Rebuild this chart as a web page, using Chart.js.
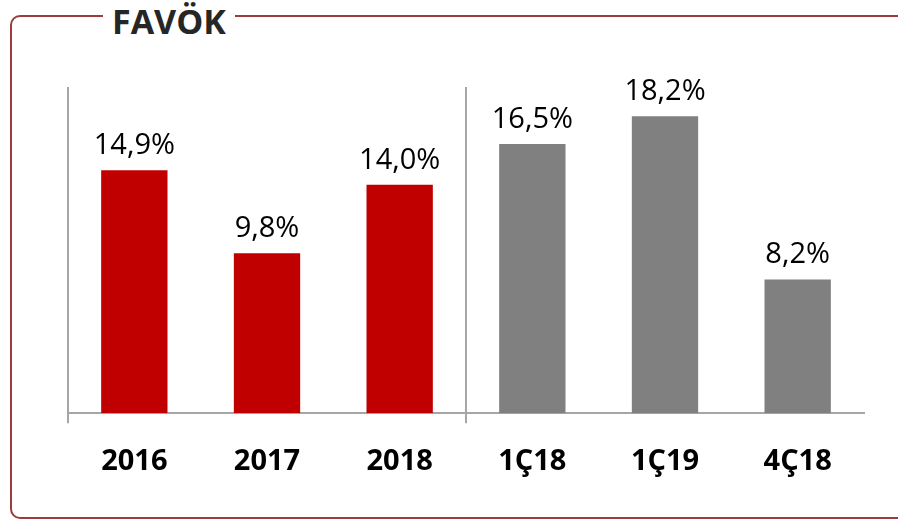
<!DOCTYPE html>
<html>
<head>
<meta charset="utf-8">
<script src="https://cdn.jsdelivr.net/npm/chart.js@4"></script>
<style>
  body { margin: 0; background: #fff; }
  #wrap { position: relative; width: 898px; height: 519px; overflow: hidden; }
  #frame {
    position: absolute; left: 10px; top: 15px; width: 920px; height: 500px;
    border: 2px solid #9e3b3b; border-radius: 10px;
  }
  #title {
    position: absolute; left: 103px; top: -2px; padding: 0 9px;
    background: #fff; color: #262626;
    font: bold 34px "Open Sans", sans-serif;
  }
  canvas { position: absolute; left: 0; top: 0; }
</style>
</head>
<body>
<div id="wrap">
  <div id="frame"></div>
  <div id="title">FAVÖK</div>
  <canvas id="myChart" width="898" height="519"></canvas>
</div>
<script>
var categories = ["2016", "2017", "2018", "1Ç18", "1Ç19", "4Ç18"];
var values = [14.9, 9.8, 14.0, 16.5, 18.2, 8.2];
var barColors = ["#c00000", "#c00000", "#c00000", "#808080", "#808080", "#808080"];

/* value labels above the bars */
var barLabels = {
  id: 'barLabels',
  afterDatasetsDraw: function(chart) {
    var ctx = chart.ctx;
    var meta = chart.getDatasetMeta(0);
    ctx.save();
    ctx.font = '29px "Open Sans", sans-serif';
    ctx.fillStyle = '#000';
    ctx.textAlign = 'center';
    ctx.textBaseline = 'bottom';
    meta.data.forEach(function(bar, i) {
      var txt = values[i].toFixed(1).replace('.', ',') + '%';
      ctx.fillText(txt, bar.x, bar.y - 10);
    });
    ctx.restore();
  }
};

var ctx = document.getElementById("myChart").getContext("2d");
var myChart = new Chart(ctx, {
  type: 'bar',
  data: {
    labels: categories,
    datasets: [{
      data: values,
      backgroundColor: barColors,
      barPercentage: 0.5,
      categoryPercentage: 1
    }]
  },
  options: {
    responsive: false,
    animation: false,
    layout: { padding: { left: 68, right: 34, top: 87, bottom: 19 } },
    plugins: { legend: { display: false }, tooltip: { enabled: false } },
    scales: {
      x: {
        grid: {
          offset: true,
          tickLength: 10,
          lineWidth: 2,
          color: function(c) { return c.index % 3 === 0 ? '#a6a6a6' : 'rgba(0,0,0,0)'; }
        },
        border: { display: true, color: '#a6a6a6', width: 2 },
        ticks: {
          padding: 21,
          color: '#000',
          font: { family: '"Open Sans", sans-serif', size: 29, weight: 'bold' }
        }
      },
      y: {
        display: false,
        min: 0,
        max: 20
      }
    }
  },
  plugins: [barLabels]
});
</script>
</body>
</html>
